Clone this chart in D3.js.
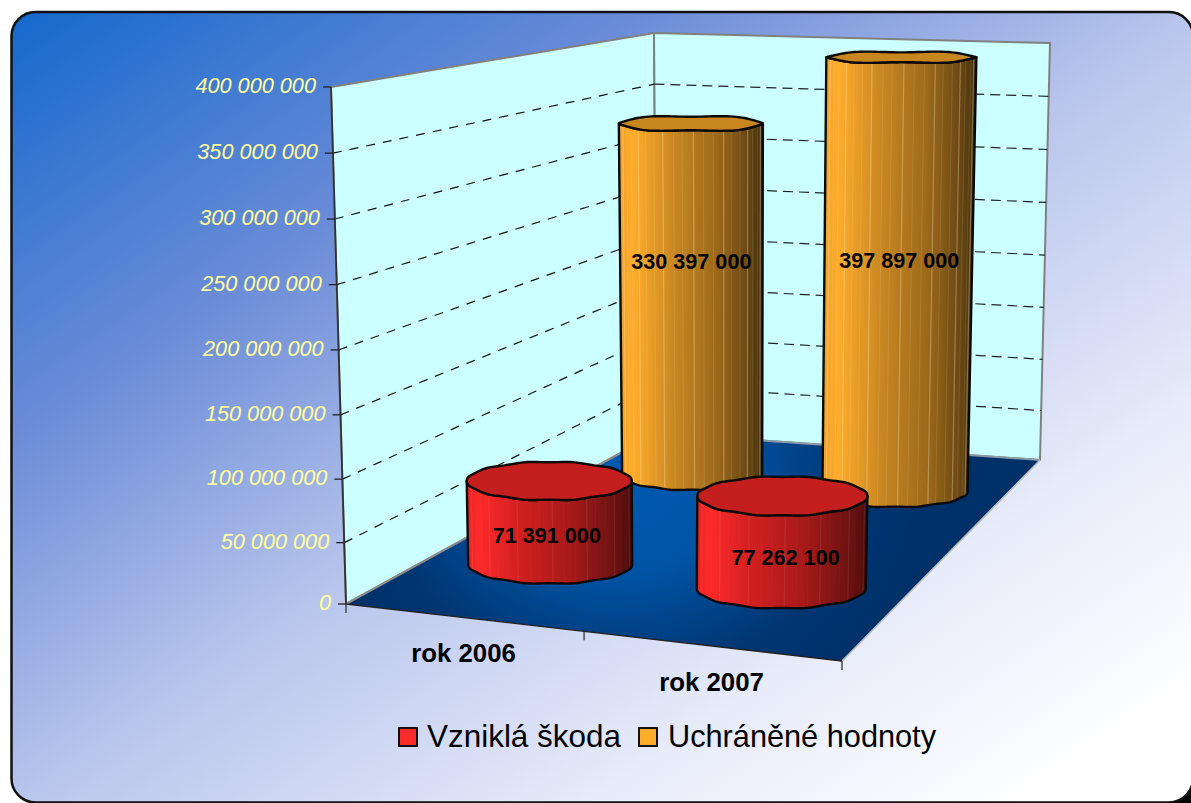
<!DOCTYPE html>
<html><head><meta charset="utf-8">
<style>html,body{margin:0;padding:0;background:#fff;overflow:hidden}svg{display:block}text{font-family:"Liberation Sans",Arial,sans-serif}</style>
<script src="https://cdn.jsdelivr.net/npm/d3@7"></script></head><body>
<svg id="c" width="1191" height="803"></svg>
<script>
const categories = ["rok 2006", "rok 2007"];
const seriesNames = ["Vzniklá škoda", "Uchráněné hodnoty"];
const damage = [71391000, 77262100];
const saved = [330397000, 397897000];
const tickValues = [0, 50000000, 100000000, 150000000, 200000000, 250000000, 300000000, 350000000, 400000000];
const seriesValues = [damage, saved];

const svg = d3.select("#c"), defs = svg.append("defs");

// ---- 3D box corners (screen positions)
const floorC = {fl:[346,604], fr:[842,661], bl:[657,433], br:[1040,460]};
const roofC  = {fl:[331,87],  fr:[855,122], bl:[654,33],  br:[1050,43]};
const yS = d3.scalePow().exponent(1.025).domain([0,400000000]).range([0,1]);
const uS = d3.scalePoint().domain(categories).range([0.24,0.74]);
const dS = d3.scalePoint().domain(seriesNames).range([0.3,0.8]);
const lerp2 = (c,u,d)=>{
  const f=d3.interpolate(c.fl,c.fr)(u), b=d3.interpolate(c.bl,c.br)(u);
  return d3.interpolate(f,b)(d);
};
const project=(u,d,v)=>d3.interpolate(lerp2(floorC,u,d),lerp2(roofC,u,d))(yS(v));

// ---- background
const bg=defs.append("linearGradient").attr("id","bg").attr("x1",0).attr("y1",0).attr("x2",1).attr("y2",1);
[[0,"#1469cc"],[0.27,"#6b8cd8"],[0.5,"#b8c5ec"],[0.75,"#e8ecfa"],[0.93,"#ffffff"],[1,"#ffffff"]].forEach(s=>bg.append("stop").attr("offset",s[0]).attr("stop-color",s[1]));
svg.append("rect").attr("x",1160).attr("y",770).attr("width",31).attr("height",33).attr("fill","#000");
svg.append("rect").attr("x",11.5).attr("y",12).attr("width",1181.5).attr("height",790.5).attr("rx",24)
  .attr("fill","url(#bg)").attr("stroke","#111").attr("stroke-width",2.5);

const poly=pts=>d3.line()(pts)+"Z";
// walls
const wallStyle=s=>s.attr("fill","#ccffff").attr("stroke","#808080").attr("stroke-width",2).attr("stroke-linejoin","round");
svg.append("path").attr("d",poly([roofC.fl,roofC.bl,floorC.bl,floorC.fl])).call(wallStyle);
svg.append("path").attr("d",poly([roofC.bl,roofC.br,floorC.br,floorC.bl])).call(wallStyle);

// gridlines
tickValues.filter(v=>v>0&&v<400000000).forEach(v=>{
  const a=project(0,0,v),b=project(0,1,v),c=project(1,1,v);
  svg.append("path").attr("d",d3.line()([a,b])).attr("fill","none").attr("stroke","#111").attr("stroke-width",1.2).attr("stroke-dasharray","9 8");
  svg.append("path").attr("d",d3.line()([b,c])).attr("fill","none").attr("stroke","#222").attr("stroke-width",1.2).attr("stroke-dasharray","10 6");
});

// floor
const fg=defs.append("radialGradient").attr("id","floor").attr("gradientUnits","userSpaceOnUse")
 .attr("cx",0).attr("cy",0).attr("r",260).attr("gradientTransform","translate(620,480) scale(1.2,1)");
[[0,"#005ab0"],[0.35,"#0054a6"],[0.75,"#003672"],[1,"#003068"]].forEach(s=>fg.append("stop").attr("offset",s[0]).attr("stop-color",s[1]));
svg.append("path").attr("d",poly([floorC.fl,floorC.bl,floorC.br,floorC.fr])).attr("fill","url(#floor)");
svg.append("path").attr("d",d3.line()([floorC.fl,floorC.bl])).attr("stroke","#8c8c8c").attr("stroke-width",2);
svg.append("path").attr("d",d3.line()([floorC.bl,floorC.br])).attr("stroke","#8a9aa8").attr("stroke-width",2);
svg.append("path").attr("d",d3.line()([floorC.br,floorC.fr])).attr("stroke","#b8b8b8").attr("stroke-width",1.6);
svg.append("path").attr("d",d3.line()([floorC.fl,floorC.fr])).attr("stroke","#222").attr("stroke-width",1.4);

// value axis
const fmt=d3.formatLocale({decimal:",",thousands:" ",grouping:[3],currency:["",""]}).format(",d");
svg.append("path").attr("d",d3.line()([project(0,0,0),project(0,0,400000000)])).attr("stroke","#333").attr("stroke-width",1.8);
tickValues.forEach(v=>{
  const p=project(0,0,v);
  svg.append("line").attr("x1",p[0]-8).attr("x2",p[0]).attr("y1",p[1]).attr("y2",p[1]).attr("stroke","#222").attr("stroke-width",1.3);
  svg.append("text").attr("x",p[0]-15).attr("y",p[1]+6).attr("text-anchor","end")
    .attr("font-size",21.7).attr("font-style","italic").attr("fill","#ffff99").text(fmt(v));
});
// category axis ticks
[0,0.48,1].forEach(u=>{
  const p=project(u,0,0);
  svg.append("line").attr("x1",p[0]).attr("x2",p[0]).attr("y1",p[1]).attr("y2",p[1]+9).attr("stroke","#333").attr("stroke-width",1.3);
});
categories.forEach(c=>{
  const p=project(uS(c),0,0);
  svg.append("text").attr("x",p[0]-1.5).attr("y",p[1]+44.5).attr("text-anchor","middle")
    .attr("font-size",25.8).attr("font-weight","bold").attr("fill","#000").text(c);
});

// ---- cylinders
const ryS=d3.scaleLinear().domain([50,600]).range([5,20.5]);
const rxS=d3.scaleLinear().domain([0.3,0.8]).range([82,70]);
const palettes=[
 {stops:[[0,"#e82222"],[0.07,"#ff2a2a"],[0.3,"#d42020"],[0.62,"#a81a1a"],[0.88,"#701212"],[1,"#4e0c0c"]],top:"#c41e1e",stripe:"#ffffff",so:0.08,amp:0.45,k:11,baseTrim:0,topExtra:2},
 {stops:[[0,"#f0a028"],[0.1,"#ffac2b"],[0.38,"#c98722"],[0.68,"#9c691b"],[0.88,"#6e4a14"],[1,"#43300c"]],top:"#c8871e",stripe:"#fff4c8",so:0.3,amp:-0.8,k:5,baseTrim:2,topExtra:0.5}
];
palettes.forEach((p,i)=>{
  const g=defs.append("linearGradient").attr("id","cyl"+i).attr("x1",0).attr("x2",1).attr("y1",0).attr("y2",0);
  p.stops.forEach(s=>g.append("stop").attr("offset",s[0]).attr("stop-color",s[1]));
});
const ell=(c,rx,ry,amp,k,a,b)=>d3.range(0,121).map(j=>{
  const t=a+(b-a)*j/120;
  return [c[0]+rx*Math.cos(t), c[1]+ry*Math.sin(t)+amp*Math.sin(k*t)];
});
const stripeAngles=[6,15,22,31,38,47,56,63,72,80,88,97,104,113,121,129,137,146,153,161,170];
[1,0].forEach(si=>{
  const name=seriesNames[si], d=dS(name), pal=palettes[si];
  categories.forEach((cat,ci)=>{
    const v=seriesValues[si][ci], u=uS(cat);
    const b=project(u,d,0), t=project(u,d,v);
    const rxB=rxS(d)+(ci?2.5:0), rxT=rxB*(1+0.035*yS(v));
    const ryB=ryS(b[1])-pal.baseTrim, ryT=ryS(t[1])+pal.topExtra;
    const g=svg.append("g");
    const front=ell(b,rxB,ryB,0.45,11,Math.PI,0);
    const backTop=ell(t,rxT,ryT,pal.amp,pal.k,0,Math.PI);
    const side=d3.line()(front.concat(backTop))+"Z";
    const id=`clip${si}${ci}`;
    defs.append("clipPath").attr("id",id).append("path").attr("d",side);
    g.append("path").attr("d",side).attr("fill",`url(#cyl${si})`);
    const sg=g.append("g").attr("clip-path",`url(#${id})`);
    stripeAngles.forEach((deg,j)=>{
      const a=deg*Math.PI/180;
      sg.append("line")
        .attr("x1",b[0]+rxB*Math.cos(a)).attr("y1",b[1]+ryB*Math.sin(a))
        .attr("x2",t[0]+rxT*Math.cos(a)).attr("y2",t[1]+ryT*Math.sin(a))
        .attr("stroke",pal.stripe).attr("stroke-width",j%3==1?1.2:0.8).attr("stroke-opacity",j%3==1?pal.so:pal.so*0.5);
    });
    g.append("path").attr("d",side).attr("fill","none").attr("stroke","#0a0a0a").attr("stroke-width",2.4).attr("stroke-linejoin","round");
    g.append("path").attr("d",d3.line()(ell(t,rxT,ryT,pal.amp,pal.k,0,2*Math.PI))+"Z").attr("fill",pal.top).attr("stroke","#0a0a0a").attr("stroke-width",2.4).attr("stroke-linejoin","round");
  });
});
// data labels
const labelLift=[[0.355,0.345],[0.615,0.54]];
const labelShift=[[-3,4],[0,1]];
seriesNames.forEach((name,si)=>categories.forEach((cat,ci)=>{
  const v=seriesValues[si][ci];
  const p=project(uS(cat),dS(name),v*labelLift[si][ci]);
  svg.append("text").attr("x",p[0]+labelShift[si][ci]).attr("y",p[1]+7.5).attr("text-anchor","middle")
    .attr("font-size",21.6).attr("font-weight","bold").attr("fill","#000").text(fmt(v));
}));

// legend
const legendFill=["#ff2a2a","#ffac2b"];
const legendSwatch=d3.scaleOrdinal().domain(seriesNames).range([399,639]);
const legendText=d3.scaleOrdinal().domain(seriesNames).range([427,668]);
const legendWidth=d3.scaleOrdinal().domain(seriesNames).range([194,268]);
seriesNames.forEach((name,i)=>{
  svg.append("rect").attr("x",legendSwatch(name)).attr("y",728).attr("width",18).attr("height",18)
    .attr("fill",legendFill[i]).attr("stroke","#111").attr("stroke-width",2);
  svg.append("text").attr("x",legendText(name)).attr("y",747).attr("font-size",30.5)
    .attr("textLength",legendWidth(name)).attr("lengthAdjust","spacingAndGlyphs").attr("fill","#000").text(name);
});
</script></body></html>
